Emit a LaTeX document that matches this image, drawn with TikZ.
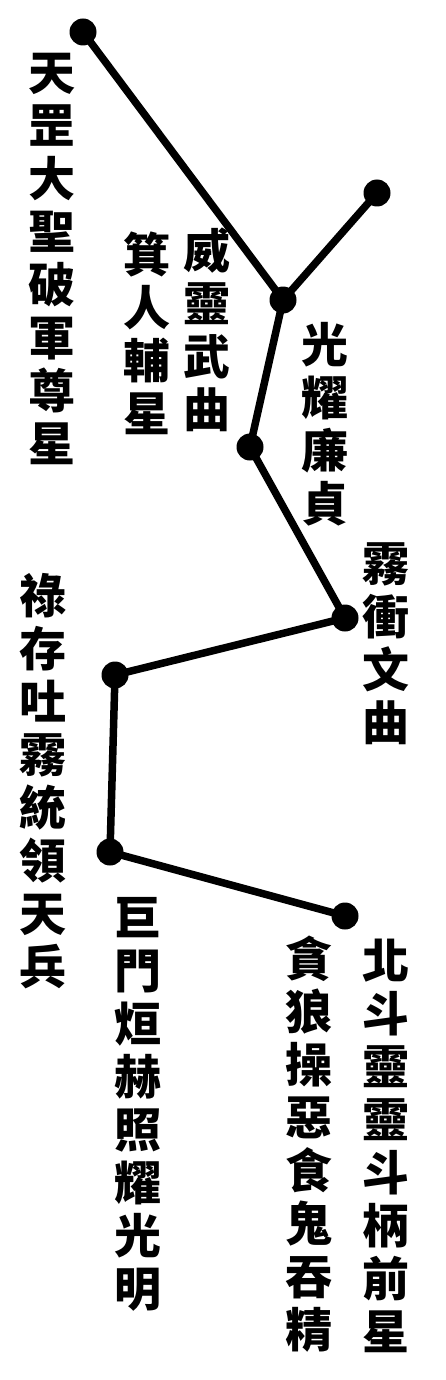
\documentclass[tikz,border=0pt]{standalone}
\usepackage{fontspec}
\newfontfamily\cjk{Noto Sans CJK TC}
\begin{document}
\begin{tikzpicture}[x=1pt,y=-1pt,
  star/.style={circle,fill=black,inner sep=0pt,minimum size=27pt},
  link/.style={line width=7.5pt,line cap=round,line join=round},
  vtext/.style={align=center,inner sep=0pt,font=\cjk\bfseries\fontsize{47}{53}\selectfont}]
\useasboundingbox (0,0) rectangle (445,1380);
\node[star] (s1) at (83,32) {};
\node[star] (s2) at (377,193) {};
\node[star] (s3) at (283,300) {};
\node[star] (s4) at (250,447) {};
\node[star] (s5) at (345,618) {};
\node[star] (s6) at (115,675) {};
\node[star] (s7) at (110,852) {};
\node[star] (s8) at (345,916) {};
\draw[link] (s1.center) -- (s3.center) -- (s4.center) -- (s5.center) -- (s6.center) -- (s7.center) -- (s8.center);
\draw[link] (s2.center) -- (s3.center);
\node[vtext] (ta) at (52,259) {天\\罡\\大\\聖\\破\\軍\\尊\\星};
\node[vtext] (tb) at (147,333) {箕\\人\\輔\\星};
\node[vtext] (tc) at (207,330) {威\\靈\\武\\曲};
\node[vtext] (td) at (325,424) {光\\耀\\廉\\貞};
\node[vtext] (te) at (386,644) {霧\\衝\\文\\曲};
\node[vtext] (tf) at (43,781) {祿\\存\\吐\\霧\\統\\領\\天\\兵};
\node[vtext] (tg) at (138,1104) {巨\\門\\烜\\赫\\照\\耀\\光\\明};
\node[vtext] (th) at (309,1144) {貪\\狼\\操\\惡\\食\\鬼\\吞\\精};
\node[vtext] (ti) at (386,1146) {北\\斗\\靈\\靈\\斗\\柄\\前\\星};
\end{tikzpicture}
\end{document}
